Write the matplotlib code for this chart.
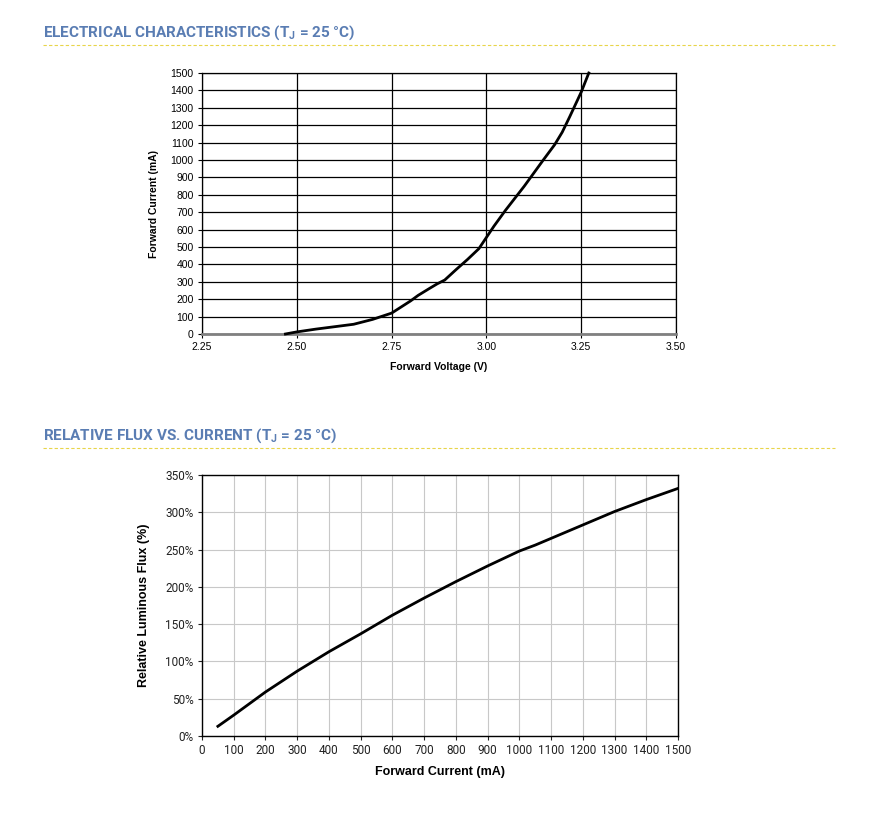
import matplotlib
matplotlib.use('Agg')
from matplotlib import pyplot as plt
from matplotlib.pyplot import MultipleLocator
from matplotlib.ticker import FuncFormatter

# forward voltage vs forward current
vf = [2.47, 2.50, 2.55, 2.60, 2.65, 2.70, 2.75, 2.77, 2.80, 2.82, 2.85, 2.87, 2.89, 2.92,
      2.95, 2.98, 3.00, 3.02, 3.05, 3.10, 3.13, 3.15, 3.18, 3.20, 3.22, 3.25, 3.27]
if_ma = [0, 12, 28, 42, 56, 84, 120, 148, 190, 222, 262, 288, 310, 370,
         428, 490, 555, 620, 710, 850, 940, 1000, 1088, 1160, 1250, 1390, 1500]

# relative flux vs current
cur = [50, 100, 200, 300, 400, 500, 600, 700, 800, 900, 1000, 1050, 1100, 1200, 1300, 1400, 1500]
flux = [13, 28, 59, 87, 113, 137, 162, 185, 207, 228, 248, 256, 265, 283, 301, 317, 332]

head_color = '#5a7db3'
line_color = '#e8d54a'


def header(fig, y, text):
	fig.text(43/880, y, text, fontsize=11, fontweight='bold', color=head_color,
		family='Roboto', va='center', ha='left')


def Plot() -> None:
	plt.rcParams['mathtext.default'] = 'regular'
	fig = plt.figure(figsize=(8.8, 8.17), dpi=100)

	header(fig, 1-33/817, r'ELECTRICAL CHARACTERISTICS (T$_J$ = 25 °C)')
	header(fig, 1-436/817, r'RELATIVE FLUX VS. CURRENT (T$_J$ = 25 °C)')
	for yy in [45, 448]:
		fig.add_artist(plt.Line2D([43/880, 835/880], [1-yy/817, 1-yy/817], color=line_color,
			linestyle=(0, (3, 2)), linewidth=0.8))

	# top chart
	ax = fig.add_axes([202/880, 1-334/817, 474/880, 261/817])
	ax.plot(vf, if_ma, color='black', linewidth=2, zorder=3, clip_on=False)
	ax.set_xlim(2.25, 3.50)
	ax.set_ylim(0, 1500)
	ax.xaxis.set_major_locator(MultipleLocator(0.25))
	ax.yaxis.set_major_locator(MultipleLocator(100))
	ax.xaxis.set_major_formatter(FuncFormatter(lambda v, p: '%.2f' % v))
	ax.grid(True, color='black', linewidth=0.9)
	for s in ['left', 'right', 'top']:
		ax.spines[s].set_color('black')
		ax.spines[s].set_linewidth(0.9)
	ax.spines['bottom'].set_color('#808080')
	ax.spines['bottom'].set_linewidth(2)
	ax.tick_params(labelsize=7.5, length=3, width=0.8, colors='black', pad=3)
	for lb in ax.get_xticklabels() + ax.get_yticklabels():
		lb.set_family('Liberation Sans')
	ax.set_xlabel('Forward Voltage (V)', fontsize=7.5, fontweight='bold', family='Liberation Sans', labelpad=7)
	ax.set_ylabel('Forward Current (mA)', fontsize=7.5, fontweight='bold', family='Liberation Sans', labelpad=8)

	# bottom chart
	ax2 = fig.add_axes([202/880, 1-736/817, 476/880, 261/817])
	ax2.plot(cur, flux, color='black', linewidth=2, zorder=3)
	ax2.set_xlim(0, 1500)
	ax2.set_ylim(0, 350)
	ax2.xaxis.set_major_locator(MultipleLocator(100))
	ax2.yaxis.set_major_locator(MultipleLocator(50))
	ax2.yaxis.set_major_formatter(FuncFormatter(lambda v, p: '%d%%' % v))
	ax2.grid(True, color='#c8c8c8', linewidth=0.8)
	for s in ax2.spines.values():
		s.set_color('black')
		s.set_linewidth(1)
	ax2.tick_params(labelsize=8.5, length=3, width=0.8, colors='#222222', pad=3)
	for lb in ax2.get_xticklabels() + ax2.get_yticklabels():
		lb.set_family('Roboto')
	ax2.set_xlabel('Forward Current (mA)', fontsize=9, fontweight='bold', family='Liberation Sans', labelpad=6)
	ax2.set_ylabel('Relative Luminous Flux (%)', fontsize=9, fontweight='bold', family='Liberation Sans', labelpad=11)

	fig.savefig('out.png', dpi=100)


if __name__ == '__main__':
	Plot()
